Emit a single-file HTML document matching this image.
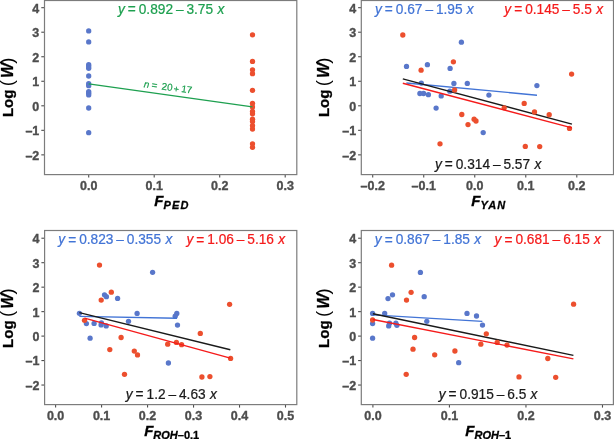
<!DOCTYPE html><html><head><meta charset="utf-8"><style>html,body{margin:0;padding:0;background:#fff;overflow:hidden}svg{display:block;will-change:transform}text{font-family:"Liberation Sans",sans-serif}</style></head><body>
<svg width="614" height="439" viewBox="0 0 614 439">
<rect width="614" height="439" fill="#fff"/>
<line x1="41.30" y1="154.86" x2="44.50" y2="154.86" stroke="#4d4d4d" stroke-width="1.1"/>
<text transform="translate(39.30 159.76) scale(1 1.07)" font-size="12.5" font-weight="bold" fill="#4d4d4d" stroke="#4d4d4d" stroke-width="0.35" text-anchor="end">–2</text>
<line x1="41.30" y1="130.33" x2="44.50" y2="130.33" stroke="#4d4d4d" stroke-width="1.1"/>
<text transform="translate(39.30 135.23) scale(1 1.07)" font-size="12.5" font-weight="bold" fill="#4d4d4d" stroke="#4d4d4d" stroke-width="0.35" text-anchor="end">–1</text>
<line x1="41.30" y1="105.80" x2="44.50" y2="105.80" stroke="#4d4d4d" stroke-width="1.1"/>
<text transform="translate(39.30 110.70) scale(1 1.07)" font-size="12.5" font-weight="bold" fill="#4d4d4d" stroke="#4d4d4d" stroke-width="0.35" text-anchor="end">0</text>
<line x1="41.30" y1="81.27" x2="44.50" y2="81.27" stroke="#4d4d4d" stroke-width="1.1"/>
<text transform="translate(39.30 86.17) scale(1 1.07)" font-size="12.5" font-weight="bold" fill="#4d4d4d" stroke="#4d4d4d" stroke-width="0.35" text-anchor="end">1</text>
<line x1="41.30" y1="56.74" x2="44.50" y2="56.74" stroke="#4d4d4d" stroke-width="1.1"/>
<text transform="translate(39.30 61.64) scale(1 1.07)" font-size="12.5" font-weight="bold" fill="#4d4d4d" stroke="#4d4d4d" stroke-width="0.35" text-anchor="end">2</text>
<line x1="41.30" y1="32.21" x2="44.50" y2="32.21" stroke="#4d4d4d" stroke-width="1.1"/>
<text transform="translate(39.30 37.11) scale(1 1.07)" font-size="12.5" font-weight="bold" fill="#4d4d4d" stroke="#4d4d4d" stroke-width="0.35" text-anchor="end">3</text>
<line x1="41.30" y1="7.68" x2="44.50" y2="7.68" stroke="#4d4d4d" stroke-width="1.1"/>
<text transform="translate(39.30 12.58) scale(1 1.07)" font-size="12.5" font-weight="bold" fill="#4d4d4d" stroke="#4d4d4d" stroke-width="0.35" text-anchor="end">4</text>
<line x1="88.70" y1="174.60" x2="88.70" y2="177.60" stroke="#4d4d4d" stroke-width="1.1"/>
<text transform="translate(88.70 189.50) scale(1 1.07)" font-size="12.5" font-weight="bold" fill="#4d4d4d" stroke="#4d4d4d" stroke-width="0.35" text-anchor="middle">0.0</text>
<line x1="154.20" y1="174.60" x2="154.20" y2="177.60" stroke="#4d4d4d" stroke-width="1.1"/>
<text transform="translate(154.20 189.50) scale(1 1.07)" font-size="12.5" font-weight="bold" fill="#4d4d4d" stroke="#4d4d4d" stroke-width="0.35" text-anchor="middle">0.1</text>
<line x1="219.70" y1="174.60" x2="219.70" y2="177.60" stroke="#4d4d4d" stroke-width="1.1"/>
<text transform="translate(219.70 189.50) scale(1 1.07)" font-size="12.5" font-weight="bold" fill="#4d4d4d" stroke="#4d4d4d" stroke-width="0.35" text-anchor="middle">0.2</text>
<line x1="285.20" y1="174.60" x2="285.20" y2="177.60" stroke="#4d4d4d" stroke-width="1.1"/>
<text transform="translate(285.20 189.50) scale(1 1.07)" font-size="12.5" font-weight="bold" fill="#4d4d4d" stroke="#4d4d4d" stroke-width="0.35" text-anchor="middle">0.3</text>
<g transform="translate(12.60 115.60) rotate(-90)"><text x="-1.5" y="0" font-size="15" font-weight="bold" fill="#000" stroke="#000" stroke-width="0.3">Log</text><text x="29.4" y="0" font-size="18.5" fill="#000">(</text><text x="37.6" y="0" font-size="16" font-weight="bold" font-style="italic" fill="#000" stroke="#000" stroke-width="0.3">W</text><text x="51.9" y="0" font-size="18.5" fill="#000">)</text></g>
<line x1="358.10" y1="154.86" x2="361.30" y2="154.86" stroke="#4d4d4d" stroke-width="1.1"/>
<text transform="translate(356.10 159.76) scale(1 1.07)" font-size="12.5" font-weight="bold" fill="#4d4d4d" stroke="#4d4d4d" stroke-width="0.35" text-anchor="end">–2</text>
<line x1="358.10" y1="130.33" x2="361.30" y2="130.33" stroke="#4d4d4d" stroke-width="1.1"/>
<text transform="translate(356.10 135.23) scale(1 1.07)" font-size="12.5" font-weight="bold" fill="#4d4d4d" stroke="#4d4d4d" stroke-width="0.35" text-anchor="end">–1</text>
<line x1="358.10" y1="105.80" x2="361.30" y2="105.80" stroke="#4d4d4d" stroke-width="1.1"/>
<text transform="translate(356.10 110.70) scale(1 1.07)" font-size="12.5" font-weight="bold" fill="#4d4d4d" stroke="#4d4d4d" stroke-width="0.35" text-anchor="end">0</text>
<line x1="358.10" y1="81.27" x2="361.30" y2="81.27" stroke="#4d4d4d" stroke-width="1.1"/>
<text transform="translate(356.10 86.17) scale(1 1.07)" font-size="12.5" font-weight="bold" fill="#4d4d4d" stroke="#4d4d4d" stroke-width="0.35" text-anchor="end">1</text>
<line x1="358.10" y1="56.74" x2="361.30" y2="56.74" stroke="#4d4d4d" stroke-width="1.1"/>
<text transform="translate(356.10 61.64) scale(1 1.07)" font-size="12.5" font-weight="bold" fill="#4d4d4d" stroke="#4d4d4d" stroke-width="0.35" text-anchor="end">2</text>
<line x1="358.10" y1="32.21" x2="361.30" y2="32.21" stroke="#4d4d4d" stroke-width="1.1"/>
<text transform="translate(356.10 37.11) scale(1 1.07)" font-size="12.5" font-weight="bold" fill="#4d4d4d" stroke="#4d4d4d" stroke-width="0.35" text-anchor="end">3</text>
<line x1="358.10" y1="7.68" x2="361.30" y2="7.68" stroke="#4d4d4d" stroke-width="1.1"/>
<text transform="translate(356.10 12.58) scale(1 1.07)" font-size="12.5" font-weight="bold" fill="#4d4d4d" stroke="#4d4d4d" stroke-width="0.35" text-anchor="end">4</text>
<line x1="372.70" y1="174.60" x2="372.70" y2="177.60" stroke="#4d4d4d" stroke-width="1.1"/>
<text transform="translate(372.70 189.50) scale(1 1.07)" font-size="12.5" font-weight="bold" fill="#4d4d4d" stroke="#4d4d4d" stroke-width="0.35" text-anchor="middle">–0.2</text>
<line x1="423.73" y1="174.60" x2="423.73" y2="177.60" stroke="#4d4d4d" stroke-width="1.1"/>
<text transform="translate(423.73 189.50) scale(1 1.07)" font-size="12.5" font-weight="bold" fill="#4d4d4d" stroke="#4d4d4d" stroke-width="0.35" text-anchor="middle">–0.1</text>
<line x1="474.75" y1="174.60" x2="474.75" y2="177.60" stroke="#4d4d4d" stroke-width="1.1"/>
<text transform="translate(474.75 189.50) scale(1 1.07)" font-size="12.5" font-weight="bold" fill="#4d4d4d" stroke="#4d4d4d" stroke-width="0.35" text-anchor="middle">0.0</text>
<line x1="525.77" y1="174.60" x2="525.77" y2="177.60" stroke="#4d4d4d" stroke-width="1.1"/>
<text transform="translate(525.77 189.50) scale(1 1.07)" font-size="12.5" font-weight="bold" fill="#4d4d4d" stroke="#4d4d4d" stroke-width="0.35" text-anchor="middle">0.1</text>
<line x1="576.80" y1="174.60" x2="576.80" y2="177.60" stroke="#4d4d4d" stroke-width="1.1"/>
<text transform="translate(576.80 189.50) scale(1 1.07)" font-size="12.5" font-weight="bold" fill="#4d4d4d" stroke="#4d4d4d" stroke-width="0.35" text-anchor="middle">0.2</text>
<g transform="translate(329.40 115.60) rotate(-90)"><text x="-1.5" y="0" font-size="15" font-weight="bold" fill="#000" stroke="#000" stroke-width="0.3">Log</text><text x="29.4" y="0" font-size="18.5" fill="#000">(</text><text x="37.6" y="0" font-size="16" font-weight="bold" font-style="italic" fill="#000" stroke="#000" stroke-width="0.3">W</text><text x="51.9" y="0" font-size="18.5" fill="#000">)</text></g>
<line x1="41.40" y1="385.04" x2="44.60" y2="385.04" stroke="#4d4d4d" stroke-width="1.1"/>
<text transform="translate(39.40 389.94) scale(1 1.07)" font-size="12.5" font-weight="bold" fill="#4d4d4d" stroke="#4d4d4d" stroke-width="0.35" text-anchor="end">–2</text>
<line x1="41.40" y1="360.57" x2="44.60" y2="360.57" stroke="#4d4d4d" stroke-width="1.1"/>
<text transform="translate(39.40 365.47) scale(1 1.07)" font-size="12.5" font-weight="bold" fill="#4d4d4d" stroke="#4d4d4d" stroke-width="0.35" text-anchor="end">–1</text>
<line x1="41.40" y1="336.10" x2="44.60" y2="336.10" stroke="#4d4d4d" stroke-width="1.1"/>
<text transform="translate(39.40 341.00) scale(1 1.07)" font-size="12.5" font-weight="bold" fill="#4d4d4d" stroke="#4d4d4d" stroke-width="0.35" text-anchor="end">0</text>
<line x1="41.40" y1="311.63" x2="44.60" y2="311.63" stroke="#4d4d4d" stroke-width="1.1"/>
<text transform="translate(39.40 316.53) scale(1 1.07)" font-size="12.5" font-weight="bold" fill="#4d4d4d" stroke="#4d4d4d" stroke-width="0.35" text-anchor="end">1</text>
<line x1="41.40" y1="287.16" x2="44.60" y2="287.16" stroke="#4d4d4d" stroke-width="1.1"/>
<text transform="translate(39.40 292.06) scale(1 1.07)" font-size="12.5" font-weight="bold" fill="#4d4d4d" stroke="#4d4d4d" stroke-width="0.35" text-anchor="end">2</text>
<line x1="41.40" y1="262.69" x2="44.60" y2="262.69" stroke="#4d4d4d" stroke-width="1.1"/>
<text transform="translate(39.40 267.59) scale(1 1.07)" font-size="12.5" font-weight="bold" fill="#4d4d4d" stroke="#4d4d4d" stroke-width="0.35" text-anchor="end">3</text>
<line x1="41.40" y1="238.22" x2="44.60" y2="238.22" stroke="#4d4d4d" stroke-width="1.1"/>
<text transform="translate(39.40 243.12) scale(1 1.07)" font-size="12.5" font-weight="bold" fill="#4d4d4d" stroke="#4d4d4d" stroke-width="0.35" text-anchor="end">4</text>
<line x1="55.60" y1="404.60" x2="55.60" y2="407.60" stroke="#4d4d4d" stroke-width="1.1"/>
<text transform="translate(55.60 419.50) scale(1 1.07)" font-size="12.5" font-weight="bold" fill="#4d4d4d" stroke="#4d4d4d" stroke-width="0.35" text-anchor="middle">0.0</text>
<line x1="101.58" y1="404.60" x2="101.58" y2="407.60" stroke="#4d4d4d" stroke-width="1.1"/>
<text transform="translate(101.58 419.50) scale(1 1.07)" font-size="12.5" font-weight="bold" fill="#4d4d4d" stroke="#4d4d4d" stroke-width="0.35" text-anchor="middle">0.1</text>
<line x1="147.56" y1="404.60" x2="147.56" y2="407.60" stroke="#4d4d4d" stroke-width="1.1"/>
<text transform="translate(147.56 419.50) scale(1 1.07)" font-size="12.5" font-weight="bold" fill="#4d4d4d" stroke="#4d4d4d" stroke-width="0.35" text-anchor="middle">0.2</text>
<line x1="193.54" y1="404.60" x2="193.54" y2="407.60" stroke="#4d4d4d" stroke-width="1.1"/>
<text transform="translate(193.54 419.50) scale(1 1.07)" font-size="12.5" font-weight="bold" fill="#4d4d4d" stroke="#4d4d4d" stroke-width="0.35" text-anchor="middle">0.3</text>
<line x1="239.52" y1="404.60" x2="239.52" y2="407.60" stroke="#4d4d4d" stroke-width="1.1"/>
<text transform="translate(239.52 419.50) scale(1 1.07)" font-size="12.5" font-weight="bold" fill="#4d4d4d" stroke="#4d4d4d" stroke-width="0.35" text-anchor="middle">0.4</text>
<line x1="285.50" y1="404.60" x2="285.50" y2="407.60" stroke="#4d4d4d" stroke-width="1.1"/>
<text transform="translate(285.50 419.50) scale(1 1.07)" font-size="12.5" font-weight="bold" fill="#4d4d4d" stroke="#4d4d4d" stroke-width="0.35" text-anchor="middle">0.5</text>
<g transform="translate(12.60 346.40) rotate(-90)"><text x="-1.5" y="0" font-size="15" font-weight="bold" fill="#000" stroke="#000" stroke-width="0.3">Log</text><text x="29.4" y="0" font-size="18.5" fill="#000">(</text><text x="37.6" y="0" font-size="16" font-weight="bold" font-style="italic" fill="#000" stroke="#000" stroke-width="0.3">W</text><text x="51.9" y="0" font-size="18.5" fill="#000">)</text></g>
<line x1="358.10" y1="385.04" x2="361.30" y2="385.04" stroke="#4d4d4d" stroke-width="1.1"/>
<text transform="translate(356.10 389.94) scale(1 1.07)" font-size="12.5" font-weight="bold" fill="#4d4d4d" stroke="#4d4d4d" stroke-width="0.35" text-anchor="end">–2</text>
<line x1="358.10" y1="360.57" x2="361.30" y2="360.57" stroke="#4d4d4d" stroke-width="1.1"/>
<text transform="translate(356.10 365.47) scale(1 1.07)" font-size="12.5" font-weight="bold" fill="#4d4d4d" stroke="#4d4d4d" stroke-width="0.35" text-anchor="end">–1</text>
<line x1="358.10" y1="336.10" x2="361.30" y2="336.10" stroke="#4d4d4d" stroke-width="1.1"/>
<text transform="translate(356.10 341.00) scale(1 1.07)" font-size="12.5" font-weight="bold" fill="#4d4d4d" stroke="#4d4d4d" stroke-width="0.35" text-anchor="end">0</text>
<line x1="358.10" y1="311.63" x2="361.30" y2="311.63" stroke="#4d4d4d" stroke-width="1.1"/>
<text transform="translate(356.10 316.53) scale(1 1.07)" font-size="12.5" font-weight="bold" fill="#4d4d4d" stroke="#4d4d4d" stroke-width="0.35" text-anchor="end">1</text>
<line x1="358.10" y1="287.16" x2="361.30" y2="287.16" stroke="#4d4d4d" stroke-width="1.1"/>
<text transform="translate(356.10 292.06) scale(1 1.07)" font-size="12.5" font-weight="bold" fill="#4d4d4d" stroke="#4d4d4d" stroke-width="0.35" text-anchor="end">2</text>
<line x1="358.10" y1="262.69" x2="361.30" y2="262.69" stroke="#4d4d4d" stroke-width="1.1"/>
<text transform="translate(356.10 267.59) scale(1 1.07)" font-size="12.5" font-weight="bold" fill="#4d4d4d" stroke="#4d4d4d" stroke-width="0.35" text-anchor="end">3</text>
<line x1="358.10" y1="238.22" x2="361.30" y2="238.22" stroke="#4d4d4d" stroke-width="1.1"/>
<text transform="translate(356.10 243.12) scale(1 1.07)" font-size="12.5" font-weight="bold" fill="#4d4d4d" stroke="#4d4d4d" stroke-width="0.35" text-anchor="end">4</text>
<line x1="372.90" y1="404.60" x2="372.90" y2="407.60" stroke="#4d4d4d" stroke-width="1.1"/>
<text transform="translate(372.90 419.50) scale(1 1.07)" font-size="12.5" font-weight="bold" fill="#4d4d4d" stroke="#4d4d4d" stroke-width="0.35" text-anchor="middle">0.0</text>
<line x1="449.43" y1="404.60" x2="449.43" y2="407.60" stroke="#4d4d4d" stroke-width="1.1"/>
<text transform="translate(449.43 419.50) scale(1 1.07)" font-size="12.5" font-weight="bold" fill="#4d4d4d" stroke="#4d4d4d" stroke-width="0.35" text-anchor="middle">0.1</text>
<line x1="525.96" y1="404.60" x2="525.96" y2="407.60" stroke="#4d4d4d" stroke-width="1.1"/>
<text transform="translate(525.96 419.50) scale(1 1.07)" font-size="12.5" font-weight="bold" fill="#4d4d4d" stroke="#4d4d4d" stroke-width="0.35" text-anchor="middle">0.2</text>
<line x1="602.49" y1="404.60" x2="602.49" y2="407.60" stroke="#4d4d4d" stroke-width="1.1"/>
<text transform="translate(602.49 419.50) scale(1 1.07)" font-size="12.5" font-weight="bold" fill="#4d4d4d" stroke="#4d4d4d" stroke-width="0.35" text-anchor="middle">0.3</text>
<g transform="translate(329.40 346.40) rotate(-90)"><text x="-1.5" y="0" font-size="15" font-weight="bold" fill="#000" stroke="#000" stroke-width="0.3">Log</text><text x="29.4" y="0" font-size="18.5" fill="#000">(</text><text x="37.6" y="0" font-size="16" font-weight="bold" font-style="italic" fill="#000" stroke="#000" stroke-width="0.3">W</text><text x="51.9" y="0" font-size="18.5" fill="#000">)</text></g>
<circle cx="88.7" cy="30.9" r="2.65" fill="#5977ca"/>
<circle cx="88.7" cy="41.9" r="2.65" fill="#5977ca"/>
<circle cx="88.7" cy="64.7" r="2.65" fill="#5977ca"/>
<circle cx="88.7" cy="66.5" r="2.65" fill="#5977ca"/>
<circle cx="88.7" cy="68.3" r="2.65" fill="#5977ca"/>
<circle cx="88.7" cy="76" r="2.65" fill="#5977ca"/>
<circle cx="88.7" cy="83.7" r="2.65" fill="#5977ca"/>
<circle cx="88.7" cy="85.7" r="2.65" fill="#5977ca"/>
<circle cx="88.7" cy="91.6" r="2.65" fill="#5977ca"/>
<circle cx="88.7" cy="93.2" r="2.65" fill="#5977ca"/>
<circle cx="88.7" cy="94.9" r="2.65" fill="#5977ca"/>
<circle cx="88.7" cy="108" r="2.65" fill="#5977ca"/>
<circle cx="88.7" cy="132.7" r="2.65" fill="#5977ca"/>
<circle cx="252.5" cy="34.8" r="2.65" fill="#ec4f2e"/>
<circle cx="252.5" cy="61.4" r="2.65" fill="#ec4f2e"/>
<circle cx="252.5" cy="69.8" r="2.65" fill="#ec4f2e"/>
<circle cx="252.5" cy="73.7" r="2.65" fill="#ec4f2e"/>
<circle cx="252.5" cy="90.3" r="2.65" fill="#ec4f2e"/>
<circle cx="252.5" cy="103.3" r="2.65" fill="#ec4f2e"/>
<circle cx="252.5" cy="106.9" r="2.65" fill="#ec4f2e"/>
<circle cx="252.5" cy="111.5" r="2.65" fill="#ec4f2e"/>
<circle cx="252.5" cy="113.8" r="2.65" fill="#ec4f2e"/>
<circle cx="252.5" cy="119.2" r="2.65" fill="#ec4f2e"/>
<circle cx="252.5" cy="121.5" r="2.65" fill="#ec4f2e"/>
<circle cx="252.5" cy="125.6" r="2.65" fill="#ec4f2e"/>
<circle cx="252.5" cy="129" r="2.65" fill="#ec4f2e"/>
<circle cx="252.5" cy="143.8" r="2.65" fill="#ec4f2e"/>
<circle cx="252.5" cy="147.3" r="2.65" fill="#ec4f2e"/>
<line x1="88.70" y1="83.92" x2="252.45" y2="106.92" stroke="#1ea050" stroke-width="1.4"/>
<circle cx="461.4" cy="42.2" r="2.65" fill="#5977ca"/>
<circle cx="406.5" cy="66.4" r="2.65" fill="#5977ca"/>
<circle cx="427.4" cy="64.7" r="2.65" fill="#5977ca"/>
<circle cx="450.1" cy="68.4" r="2.65" fill="#5977ca"/>
<circle cx="421.3" cy="83.1" r="2.65" fill="#5977ca"/>
<circle cx="453.9" cy="83.4" r="2.65" fill="#5977ca"/>
<circle cx="467.3" cy="83.4" r="2.65" fill="#5977ca"/>
<circle cx="449.8" cy="91.2" r="2.65" fill="#5977ca"/>
<circle cx="419.9" cy="93.5" r="2.65" fill="#5977ca"/>
<circle cx="423.6" cy="93.5" r="2.65" fill="#5977ca"/>
<circle cx="428.4" cy="94.7" r="2.65" fill="#5977ca"/>
<circle cx="441.2" cy="95.9" r="2.65" fill="#5977ca"/>
<circle cx="488.9" cy="95.1" r="2.65" fill="#5977ca"/>
<circle cx="436.1" cy="108.1" r="2.65" fill="#5977ca"/>
<circle cx="483.2" cy="132.6" r="2.65" fill="#5977ca"/>
<circle cx="536.9" cy="85.6" r="2.65" fill="#5977ca"/>
<line x1="406.38" y1="82.96" x2="537.00" y2="95.20" stroke="#4274d6" stroke-width="1.4"/>
<line x1="402.80" y1="78.83" x2="571.95" y2="124.13" stroke="#1a1a1a" stroke-width="1.4"/>
<circle cx="402.8" cy="35.0" r="2.65" fill="#ec4f2e"/>
<circle cx="453.4" cy="61.8" r="2.65" fill="#ec4f2e"/>
<circle cx="421.1" cy="70.2" r="2.65" fill="#ec4f2e"/>
<circle cx="454.6" cy="90.0" r="2.65" fill="#ec4f2e"/>
<circle cx="461.8" cy="114.5" r="2.65" fill="#ec4f2e"/>
<circle cx="474.1" cy="119.2" r="2.65" fill="#ec4f2e"/>
<circle cx="476.0" cy="121.0" r="2.65" fill="#ec4f2e"/>
<circle cx="468.0" cy="124.6" r="2.65" fill="#ec4f2e"/>
<circle cx="440.0" cy="143.8" r="2.65" fill="#ec4f2e"/>
<circle cx="525.3" cy="146.4" r="2.65" fill="#ec4f2e"/>
<circle cx="539.7" cy="146.6" r="2.65" fill="#ec4f2e"/>
<circle cx="571.6" cy="74.1" r="2.65" fill="#ec4f2e"/>
<circle cx="524.2" cy="103.4" r="2.65" fill="#ec4f2e"/>
<circle cx="504.2" cy="107.8" r="2.65" fill="#ec4f2e"/>
<circle cx="534.5" cy="112.0" r="2.65" fill="#ec4f2e"/>
<circle cx="549.2" cy="114.7" r="2.65" fill="#ec4f2e"/>
<circle cx="569.5" cy="128.4" r="2.65" fill="#ec4f2e"/>
<line x1="402.80" y1="83.22" x2="571.95" y2="127.94" stroke="#f51b1b" stroke-width="1.4"/>
<circle cx="152.6" cy="272.3" r="2.65" fill="#5977ca"/>
<circle cx="104.5" cy="294.8" r="2.65" fill="#5977ca"/>
<circle cx="106.4" cy="296.7" r="2.65" fill="#5977ca"/>
<circle cx="117.6" cy="298.4" r="2.65" fill="#5977ca"/>
<circle cx="79.4" cy="313.3" r="2.65" fill="#5977ca"/>
<circle cx="137.1" cy="313.4" r="2.65" fill="#5977ca"/>
<circle cx="128.5" cy="321.3" r="2.65" fill="#5977ca"/>
<circle cx="86.4" cy="323.6" r="2.65" fill="#5977ca"/>
<circle cx="94.1" cy="323.4" r="2.65" fill="#5977ca"/>
<circle cx="101.1" cy="324.9" r="2.65" fill="#5977ca"/>
<circle cx="101.4" cy="323.0" r="2.65" fill="#5977ca"/>
<circle cx="106.2" cy="325.9" r="2.65" fill="#5977ca"/>
<circle cx="90.1" cy="338.2" r="2.65" fill="#5977ca"/>
<circle cx="176.8" cy="313.5" r="2.65" fill="#5977ca"/>
<circle cx="175.2" cy="316.2" r="2.65" fill="#5977ca"/>
<circle cx="177.5" cy="325.1" r="2.65" fill="#5977ca"/>
<circle cx="168.4" cy="363.0" r="2.65" fill="#5977ca"/>
<line x1="79.37" y1="316.41" x2="176.99" y2="318.25" stroke="#4274d6" stroke-width="1.4"/>
<line x1="79.37" y1="312.59" x2="230.32" y2="349.79" stroke="#1a1a1a" stroke-width="1.4"/>
<circle cx="99.5" cy="265.1" r="2.65" fill="#ec4f2e"/>
<circle cx="111.3" cy="292.2" r="2.65" fill="#ec4f2e"/>
<circle cx="101.2" cy="300.1" r="2.65" fill="#ec4f2e"/>
<circle cx="84.5" cy="320.3" r="2.65" fill="#ec4f2e"/>
<circle cx="121.1" cy="337.5" r="2.65" fill="#ec4f2e"/>
<circle cx="109.8" cy="349.6" r="2.65" fill="#ec4f2e"/>
<circle cx="134.3" cy="351.1" r="2.65" fill="#ec4f2e"/>
<circle cx="137.5" cy="354.9" r="2.65" fill="#ec4f2e"/>
<circle cx="124.5" cy="374.3" r="2.65" fill="#ec4f2e"/>
<circle cx="167.7" cy="344.2" r="2.65" fill="#ec4f2e"/>
<circle cx="176.4" cy="342.4" r="2.65" fill="#ec4f2e"/>
<circle cx="181.6" cy="344.7" r="2.65" fill="#ec4f2e"/>
<circle cx="200.3" cy="333.4" r="2.65" fill="#ec4f2e"/>
<circle cx="229.6" cy="304.3" r="2.65" fill="#ec4f2e"/>
<circle cx="230.6" cy="358.4" r="2.65" fill="#ec4f2e"/>
<circle cx="201.9" cy="377.0" r="2.65" fill="#ec4f2e"/>
<circle cx="209.9" cy="376.6" r="2.65" fill="#ec4f2e"/>
<line x1="84.57" y1="318.12" x2="230.32" y2="358.14" stroke="#f51b1b" stroke-width="1.4"/>
<circle cx="420.4" cy="272.4" r="2.65" fill="#5977ca"/>
<circle cx="392.5" cy="294.8" r="2.65" fill="#5977ca"/>
<circle cx="388.0" cy="298.6" r="2.65" fill="#5977ca"/>
<circle cx="424.2" cy="296.7" r="2.65" fill="#5977ca"/>
<circle cx="372.6" cy="313.4" r="2.65" fill="#5977ca"/>
<circle cx="384.7" cy="313.4" r="2.65" fill="#5977ca"/>
<circle cx="467.0" cy="313.4" r="2.65" fill="#5977ca"/>
<circle cx="476.5" cy="316.0" r="2.65" fill="#5977ca"/>
<circle cx="372.6" cy="323.6" r="2.65" fill="#5977ca"/>
<circle cx="389.5" cy="323.2" r="2.65" fill="#5977ca"/>
<circle cx="388.7" cy="325.9" r="2.65" fill="#5977ca"/>
<circle cx="395.9" cy="323.2" r="2.65" fill="#5977ca"/>
<circle cx="396.9" cy="325.3" r="2.65" fill="#5977ca"/>
<circle cx="426.8" cy="321.3" r="2.65" fill="#5977ca"/>
<circle cx="482.5" cy="325.1" r="2.65" fill="#5977ca"/>
<circle cx="372.6" cy="338.2" r="2.65" fill="#5977ca"/>
<circle cx="458.7" cy="362.7" r="2.65" fill="#5977ca"/>
<line x1="372.90" y1="314.88" x2="482.34" y2="321.36" stroke="#4274d6" stroke-width="1.4"/>
<line x1="372.90" y1="313.71" x2="573.41" y2="355.38" stroke="#1a1a1a" stroke-width="1.4"/>
<circle cx="391.6" cy="265.2" r="2.65" fill="#ec4f2e"/>
<circle cx="411.1" cy="292.3" r="2.65" fill="#ec4f2e"/>
<circle cx="406.5" cy="300.1" r="2.65" fill="#ec4f2e"/>
<circle cx="372.6" cy="320.0" r="2.65" fill="#ec4f2e"/>
<circle cx="486.3" cy="333.8" r="2.65" fill="#ec4f2e"/>
<circle cx="414.6" cy="337.5" r="2.65" fill="#ec4f2e"/>
<circle cx="480.8" cy="344.2" r="2.65" fill="#ec4f2e"/>
<circle cx="497.2" cy="342.4" r="2.65" fill="#ec4f2e"/>
<circle cx="507.0" cy="345.1" r="2.65" fill="#ec4f2e"/>
<circle cx="413.0" cy="349.2" r="2.65" fill="#ec4f2e"/>
<circle cx="434.7" cy="354.8" r="2.65" fill="#ec4f2e"/>
<circle cx="454.9" cy="351.0" r="2.65" fill="#ec4f2e"/>
<circle cx="547.8" cy="358.5" r="2.65" fill="#ec4f2e"/>
<circle cx="406.2" cy="374.3" r="2.65" fill="#ec4f2e"/>
<circle cx="519.0" cy="376.9" r="2.65" fill="#ec4f2e"/>
<circle cx="555.7" cy="377.3" r="2.65" fill="#ec4f2e"/>
<circle cx="573.6" cy="304.2" r="2.65" fill="#ec4f2e"/>
<line x1="372.90" y1="319.44" x2="573.41" y2="358.86" stroke="#f51b1b" stroke-width="1.4"/>
<rect x="44.50" y="0.50" width="252.30" height="174.10" fill="none" stroke="#7c7c7c" stroke-width="1.2"/>
<rect x="361.30" y="0.50" width="252.20" height="174.10" fill="none" stroke="#7c7c7c" stroke-width="1.2"/>
<rect x="44.60" y="230.50" width="252.20" height="174.10" fill="none" stroke="#7c7c7c" stroke-width="1.2"/>
<rect x="361.30" y="230.50" width="252.10" height="174.10" fill="none" stroke="#7c7c7c" stroke-width="1.2"/>
<text transform="translate(117.90 13.60) scale(1 1.05)" font-size="13.7" fill="#1ea050" stroke="#1ea050" stroke-width="0.22" text-anchor="start"><tspan font-style="italic">y</tspan><tspan word-spacing="-0.8" dy="0.5"> = </tspan><tspan dy="-0.5">0.892</tspan><tspan word-spacing="-0.9"> – </tspan>3.75<tspan word-spacing="0.5"> </tspan><tspan font-style="italic">x</tspan></text>
<text transform="translate(375.00 13.60) scale(1 1.05)" font-size="13.7" fill="#4274d6" stroke="#4274d6" stroke-width="0.22" text-anchor="start"><tspan font-style="italic">y</tspan><tspan word-spacing="-0.8" dy="0.5"> = </tspan><tspan dy="-0.5">0.67</tspan><tspan word-spacing="-0.9"> – </tspan>1.95<tspan word-spacing="0.5"> </tspan><tspan font-style="italic">x</tspan></text>
<text transform="translate(504.30 13.60) scale(1 1.05)" font-size="13.7" fill="#f51b1b" stroke="#f51b1b" stroke-width="0.22" text-anchor="start"><tspan font-style="italic">y</tspan><tspan word-spacing="-0.8" dy="0.5"> = </tspan><tspan dy="-0.5">0.145</tspan><tspan word-spacing="-0.9"> – </tspan>5.5<tspan word-spacing="0.5"> </tspan><tspan font-style="italic">x</tspan></text>
<text transform="translate(434.90 168.70) scale(1 1.05)" font-size="13.7" fill="#1a1a1a" stroke="#1a1a1a" stroke-width="0.22" text-anchor="start"><tspan font-style="italic">y</tspan><tspan word-spacing="-0.8" dy="0.5"> = </tspan><tspan dy="-0.5">0.314</tspan><tspan word-spacing="-0.9"> – </tspan>5.57<tspan word-spacing="0.5"> </tspan><tspan font-style="italic">x</tspan></text>
<text transform="translate(58.30 244.00) scale(1 1.05)" font-size="13.7" fill="#4274d6" stroke="#4274d6" stroke-width="0.22" text-anchor="start"><tspan font-style="italic">y</tspan><tspan word-spacing="-0.8" dy="0.5"> = </tspan><tspan dy="-0.5">0.823</tspan><tspan word-spacing="-0.9"> – </tspan>0.355<tspan word-spacing="0.5"> </tspan><tspan font-style="italic">x</tspan></text>
<text transform="translate(186.40 244.00) scale(1 1.05)" font-size="13.7" fill="#f51b1b" stroke="#f51b1b" stroke-width="0.22" text-anchor="start"><tspan font-style="italic">y</tspan><tspan word-spacing="-0.8" dy="0.5"> = </tspan><tspan dy="-0.5">1.06</tspan><tspan word-spacing="-0.9"> – </tspan>5.16<tspan word-spacing="0.5"> </tspan><tspan font-style="italic">x</tspan></text>
<text transform="translate(125.70 398.60) scale(1 1.05)" font-size="13.7" fill="#1a1a1a" stroke="#1a1a1a" stroke-width="0.22" text-anchor="start"><tspan font-style="italic">y</tspan><tspan word-spacing="-0.8" dy="0.5"> = </tspan><tspan dy="-0.5">1.2</tspan><tspan word-spacing="-0.9"> – </tspan>4.63<tspan word-spacing="0.5"> </tspan><tspan font-style="italic">x</tspan></text>
<text transform="translate(374.80 244.00) scale(1 1.05)" font-size="13.7" fill="#4274d6" stroke="#4274d6" stroke-width="0.22" text-anchor="start"><tspan font-style="italic">y</tspan><tspan word-spacing="-0.8" dy="0.5"> = </tspan><tspan dy="-0.5">0.867</tspan><tspan word-spacing="-0.9"> – </tspan>1.85<tspan word-spacing="0.5"> </tspan><tspan font-style="italic">x</tspan></text>
<text transform="translate(494.60 244.00) scale(1 1.05)" font-size="13.7" fill="#f51b1b" stroke="#f51b1b" stroke-width="0.22" text-anchor="start"><tspan font-style="italic">y</tspan><tspan word-spacing="-0.8" dy="0.5"> = </tspan><tspan dy="-0.5">0.681</tspan><tspan word-spacing="-0.9"> – </tspan>6.15<tspan word-spacing="0.5"> </tspan><tspan font-style="italic">x</tspan></text>
<text transform="translate(438.70 398.60) scale(1 1.05)" font-size="13.7" fill="#1a1a1a" stroke="#1a1a1a" stroke-width="0.22" text-anchor="start"><tspan font-style="italic">y</tspan><tspan word-spacing="-0.8" dy="0.5"> = </tspan><tspan dy="-0.5">0.915</tspan><tspan word-spacing="-0.9"> – </tspan>6.5<tspan word-spacing="0.5"> </tspan><tspan font-style="italic">x</tspan></text>
<g transform="translate(143.6 87.2) rotate(7.5)" font-size="9.8" fill="#1ea050" stroke="#1ea050" stroke-width="0.2"><text x="0" y="0" font-style="italic">n</text><text x="7.6" y="0">=</text><text x="17.9" y="0">20</text><text x="30.0" y="0.7" font-size="9.2">+</text><text x="37.7" y="0">17</text></g>
<text x="154.3" y="206" font-size="15" font-weight="bold" font-style="italic" fill="#000" stroke="#000" stroke-width="0.3">F<tspan font-size="11" dy="2.5" letter-spacing="1.2">PED</tspan></text>
<text x="471.3" y="206" font-size="15" font-weight="bold" font-style="italic" fill="#000" stroke="#000" stroke-width="0.3">F<tspan font-size="11" dy="2.5" letter-spacing="1.2">YAN</tspan></text>
<text x="144.2" y="436" font-size="15" font-weight="bold" font-style="italic" fill="#000" stroke="#000" stroke-width="0.3">F<tspan font-size="11" dy="2.5" letter-spacing="0">ROH</tspan><tspan font-size="11" font-style="normal">–0.1</tspan></text>
<text x="465.3" y="436" font-size="15" font-weight="bold" font-style="italic" fill="#000" stroke="#000" stroke-width="0.3">F<tspan font-size="11" dy="2.5" letter-spacing="0">ROH</tspan><tspan font-size="11" font-style="normal">–1</tspan></text>
</svg></body></html>
